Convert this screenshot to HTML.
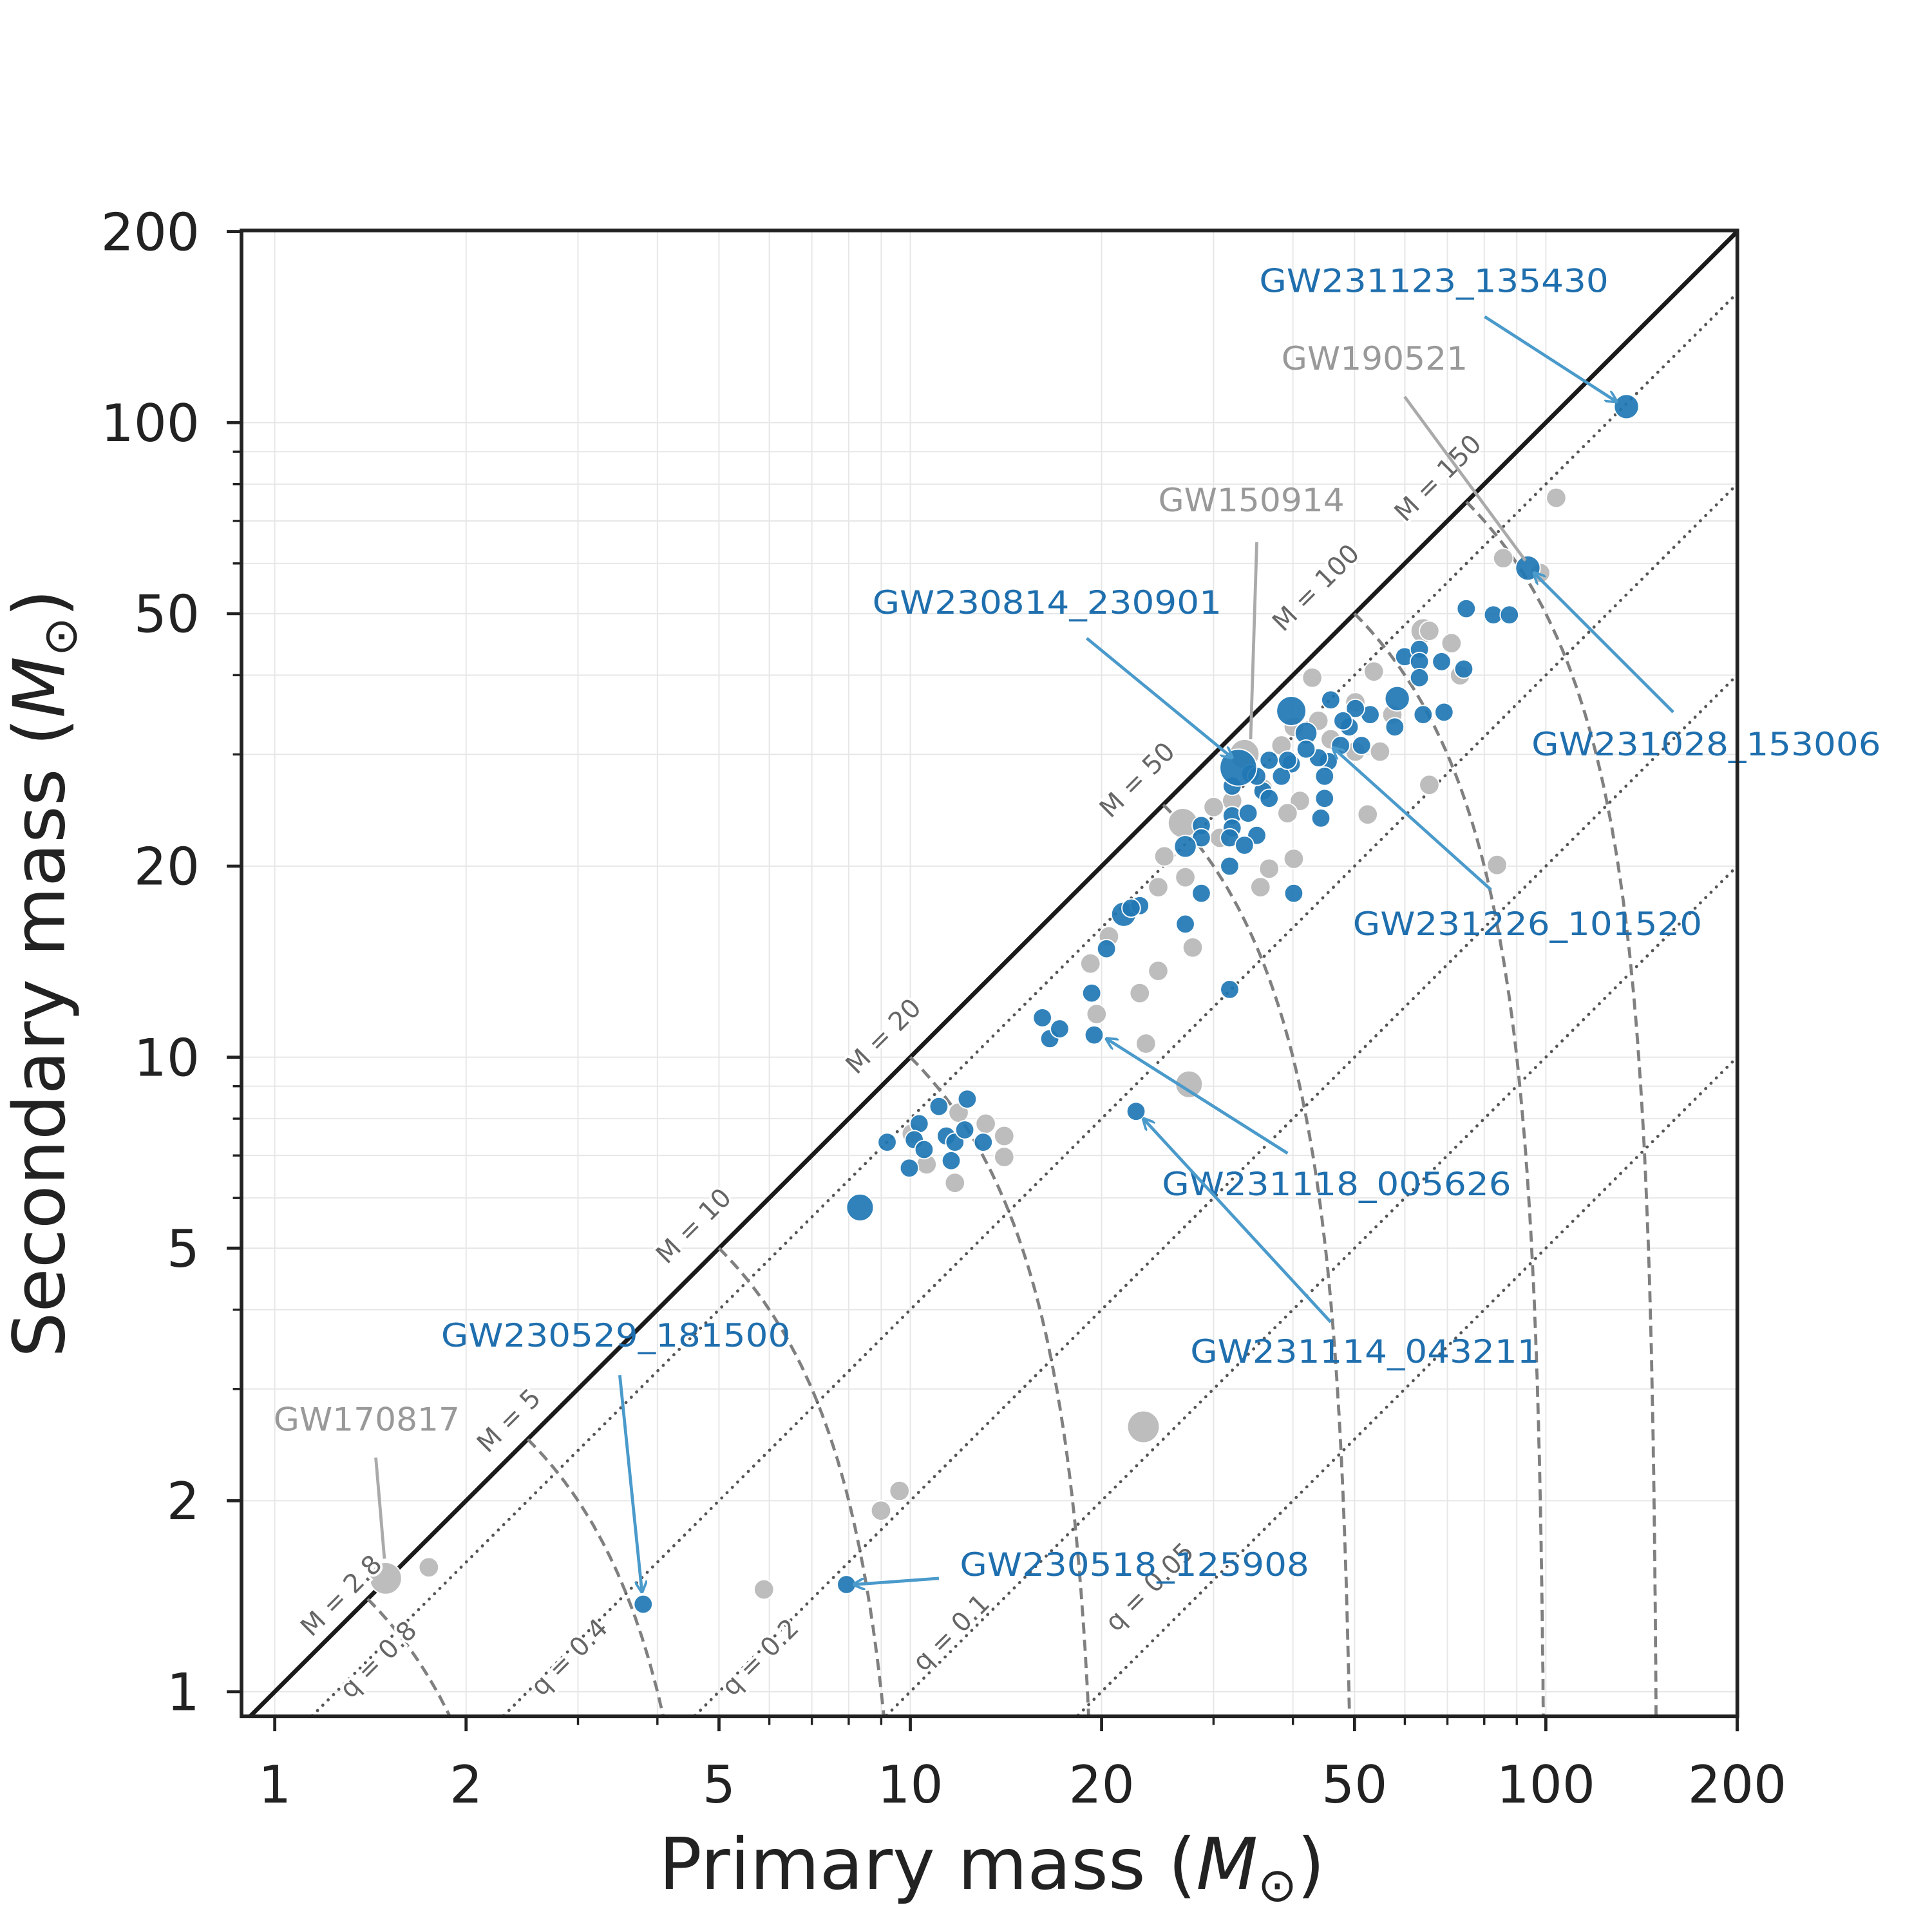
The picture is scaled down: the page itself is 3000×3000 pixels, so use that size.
<!DOCTYPE html>
<html><head><meta charset="utf-8"><style>html,body{margin:0;padding:0;background:#fff;width:3000px;height:3000px;overflow:hidden}svg{display:block}text{font-family:"DejaVu Sans","Liberation Sans",sans-serif}</style></head>
<body>
<svg id="s" width="3000" height="3000" viewBox="0 0 1568 1568" xmlns="http://www.w3.org/2000/svg">
<defs><clipPath id="c"><rect x="196" y="187" width="1214" height="1206"/></clipPath>
<marker id="ab" markerWidth="10" markerHeight="10" refX="9" refY="5" orient="auto" markerUnits="userSpaceOnUse"><path d="M0,0 L10,5 L0,10" fill="none" stroke="#4a9acb" stroke-width="2"/></marker></defs>
<g id="grid"></g><g id="lines" clip-path="url(#c)"></g><g id="pts" clip-path="url(#c)"></g><g id="ann"></g><g id="ax"></g>
<text x="805" y="1533" font-size="58" text-anchor="middle" fill="#222">Primary mass (<tspan font-style="italic">M</tspan><tspan font-size="38" dy="10">⊙</tspan><tspan dy="-10">)</tspan></text>
<text x="0" y="0" font-size="58" text-anchor="middle" fill="#222" transform="translate(52,790) rotate(-90)">Secondary mass (<tspan font-style="italic">M</tspan><tspan font-size="38" dy="10">⊙</tspan><tspan dy="-10">)</tspan></text>
</svg>
<script>
const NS="http://www.w3.org/2000/svg";
function X(m){return 223+515.8*Math.log10(m)}
function Y(m){return 1373-515*Math.log10(m)}
function el(p,t,a,txt){const e=document.createElementNS(NS,t);for(const k in a)e.setAttribute(k,a[k]);if(txt!==undefined)e.textContent=txt;document.getElementById(p).appendChild(e);return e}
const xs=[];
for(let d of [1,10,100])for(let i=1;i<10;i++){xs.push(d*i);}
xs.push(200);
for(let m of xs){if(m<0.88||m>200)continue;const x=X(m);el('grid','line',{x1:x,x2:x,y1:187,y2:1393,stroke:'#e6e6e6','stroke-width':1});
 const maj=[1,2,5,10,20,50,100,200].includes(m);
 el('ax','line',{x1:x,x2:x,y1:1393,y2:1393+(maj?12:7),stroke:'#222','stroke-width':maj?2.5:1.8});
 if(maj)el('ax','text',{x:x,y:1463,'font-size':42,'text-anchor':'middle',fill:'#222'},m);}
for(let m of xs){if(m<0.91||m>200)continue;const y=Y(m);el('grid','line',{x1:196,x2:1410,y1:y,y2:y,stroke:'#e6e6e6','stroke-width':1});
 const maj=[1,2,5,10,20,50,100,200].includes(m);
 el('ax','line',{x1:196,x2:196-(maj?12:7),y1:y,y2:y,stroke:'#222','stroke-width':maj?2.5:1.8});
 if(maj)el('ax','text',{x:162,y:y+15,'font-size':42,'text-anchor':'end',fill:'#222'},m);}
el('ax','rect',{x:196,y:187,width:1214,height:1206,fill:'none',stroke:'#222','stroke-width':3});
el('lines','line',{x1:X(0.8),y1:Y(0.8),x2:X(250),y2:Y(250),stroke:'#1a1a1a','stroke-width':3.5});
for(const q of [0.8,0.4,0.2,0.1,0.05]){el('lines','line',{x1:X(0.5),y1:Y(0.5*q),x2:X(250),y2:Y(250*q),stroke:'#555','stroke-width':2.5,'stroke-dasharray':'0.1,6','stroke-linecap':'round'});}
for(const M of [2.8,5,10,20,50,100,150]){let d='';const n=200;for(let i=0;i<=n;i++){const m2=M/2*Math.pow(0.85/(M/2),i/n);const m1=M-m2;d+=(i?'L':'M')+X(m1).toFixed(1)+','+Y(m2).toFixed(1);}
 el('lines','path',{d:d,fill:'none',stroke:'#808080','stroke-width':2.5,'stroke-dasharray':'9,5'});}
const lab=[['M = 2.8',282,1300],['M = 5',418,1158],['M = 10',568,1000],['M = 20',722,846],['M = 50',928,638],['M = 100',1073,482],['M = 150',1172,393],
['q = 0.8',312,1352],['q = 0.4',467,1350],['q = 0.2',622,1350],['q = 0.1',777,1330],['q = 0.05',938,1293]];
for(const [t,x,y] of lab)el('ann','text',{x:0,y:0,'font-size':21,'text-anchor':'middle',fill:'#666',stroke:'#fff','stroke-width':4,'paint-order':'stroke',transform:`translate(${x},${y}) rotate(-45)`},t);
const G=[[1263,404],[1220,453],[1250,465],[1155,512,10],[1178,522],[1115,545],[1185,548],[1050,590],[1080,600],[1100,610],[1120,610],[1010,612,12],[1040,605],[1025,640],[1055,650],[1000,650],[985,655],[990,680],[1045,660],[1110,661],[1160,637],[960,668,12],[1030,705],[1050,697],[1023,720],[940,720],[962,712],[945,695],[900,760],[885,782],[940,788],[968,769],[925,806],[890,823],[930,847],[965,880,11],[800,912],[815,922],[815,939],[775,960],[752,945],[778,903],[740,920],[928,1158,13],[730,1210],[715,1226],[620,1290],[348,1272],[313,1281,13],[1215,702],[1160,512],[1130,580],[1065,550],[1100,570],[1070,585]];
for(const p of G)el('pts','circle',{cx:p[0],cy:p[1],r:p[2]||8,fill:'#bdbdbd',stroke:'#fff','stroke-width':1});
const B=[[1320,330,10],[1240,461,10],[1190,494],[1212,499],[1225,499],[1140,533],[1152,527],[1152,537],[1170,537],[1188,543],[1152,550],[1134,567,10],[1172,578],[1155,580],[1132,590],[1112,580],[1100,575],[1095,590],[1080,568],[1090,585],[1105,605],[1088,605],[1078,618],[1075,630],[1070,615],[1060,595,9],[1048,577,12],[1060,608],[1048,620],[1040,630],[1030,617],[1025,642],[1015,628],[1020,630],[1000,638],[1000,662],[1013,660],[1030,648],[1045,617],[1075,648],[1072,664],[975,670],[975,680],[1000,672],[998,680],[1020,678],[1010,686],[998,703],[962,687,9],[975,725],[962,750],[1050,725],[912,742,10],[925,735],[918,737],[898,770],[886,806],[888,840],[846,826],[852,843],[860,835],[998,803],[922,902],[762,898],[785,892],[746,912],[720,927],[742,925],[750,933],[768,922],[775,927],[772,942],[738,948],[783,917],[798,927],[698,980,11],[522,1302],[687,1286],[1005,623,15]];
for(const p of B)el('pts','circle',{cx:p[0],cy:p[1],r:p[2]||7.5,fill:'#1f77b4','fill-opacity':0.92,stroke:'#fff','stroke-width':1});
const A=[['GW231123_135430',1022,237,1205,257,1312,326,1],['GW190521',1040,300,1140,322,1238,455,0],['GW150914',940,415,1020,440,1015,600,0],
['GW230814_230901',708,498,882,518,1000,615,1],['GW231028_153006',1243,613,1358,578,1245,465,1],['GW231226_101520',1098,759,1210,722,1082,607,1],
['GW231118_005626',943,970,1045,936,898,843,1],['GW231114_043211',966,1106,1080,1073,928,908,1],['GW230529_181500',358,1093,503,1116,521,1292,1],
['GW170817',222,1161,305,1183,312,1265,0],['GW230518_125908',779,1279,762,1281,693,1286,1]];
for(const [t,x,y,x1,y1,x2,y2,b] of A){
 const a={x1:x1,y1:y1,x2:x2,y2:y2,stroke:b?'#4a9acb':'#aaa','stroke-width':2.5};if(b)a['marker-end']='url(#ab)';el('ann','line',a);
 el('ann','text',{x:x,y:y,'font-size':26,fill:b?'#1f6fae':'#999',textLength:t.length*18.9,lengthAdjust:'spacingAndGlyphs'},t);}
</script>
</body></html>
